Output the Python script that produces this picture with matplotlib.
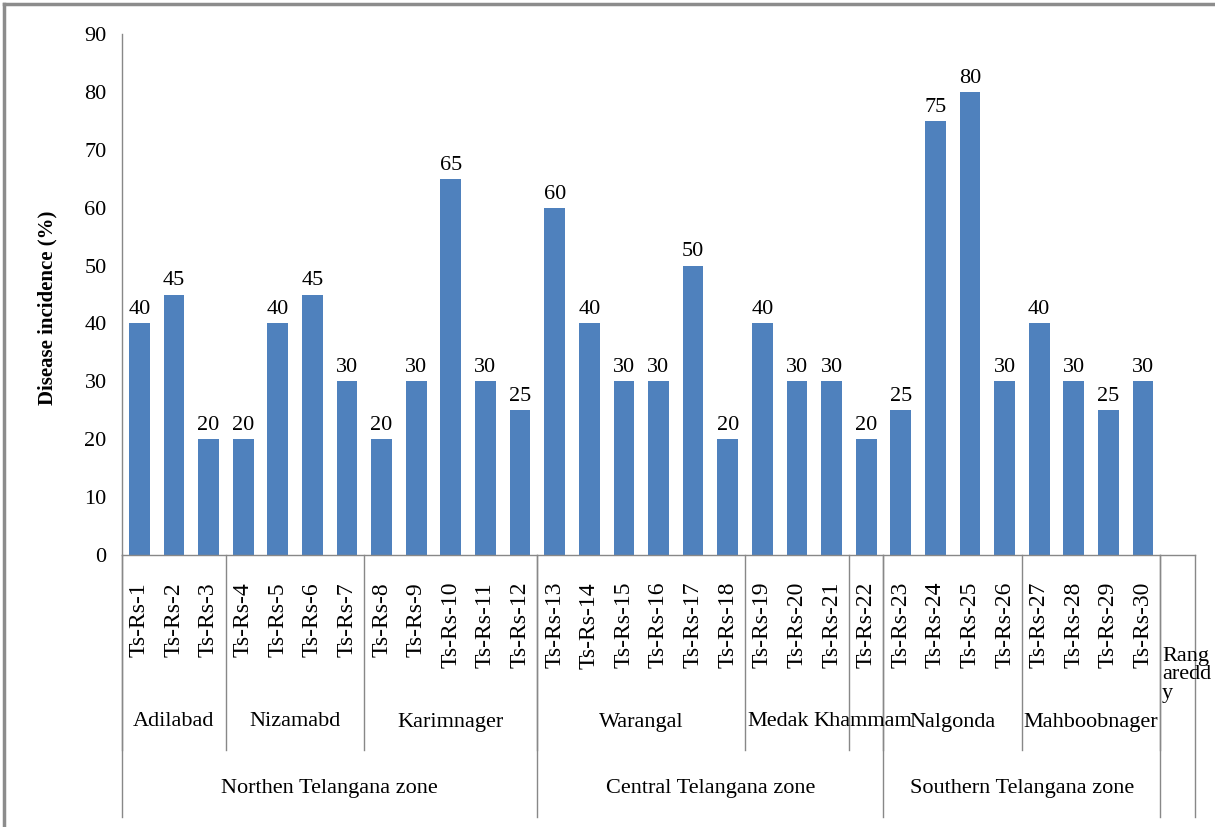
import numpy as np
import matplotlib.pyplot as plt
from matplotlib.lines import Line2D

plt.rcParams['font.family'] = ['Liberation Serif', 'DejaVu Serif']

# Disease incidence per isolate
samples = ["Ts-Rs-%d" % i for i in range(1, 31)] + [""]
incidence = [40, 45, 20, 20, 40, 45, 30, 20, 30, 65, 30, 25, 60, 40, 30,
             30, 50, 20, 40, 30, 30, 20, 25, 75, 80, 30, 40, 30, 25, 30]

districts = ["Adilabad", "Nizamabd", "Karimnager", "Warangal", "Medak",
             "Khammam", "Nalgonda", "Mahboobnager", "Rang\naredd\ny"]
district_sizes = [3, 4, 5, 6, 3, 1, 4, 4, 1]

zones = ["Northen Telangana zone", "Central Telangana zone",
         "Southern Telangana zone", ""]
zone_sizes = [12, 10, 8, 1]

W, H = 1215, 827
fig = plt.figure(figsize=(W / 100, H / 100), dpi=100)
ax = fig.add_axes([122 / W, 1 - 555 / H, (1195 - 122) / W, (555 - 34) / H])

x = np.arange(len(incidence))
bars = ax.bar(x, incidence, width=0.6, color="#4F81BD", zorder=2)
ax.bar_label(bars, padding=3, fontsize=16)

ax.set_xlim(-0.5, len(samples) - 0.5)
ax.set_ylim(0, 90)
ax.set_yticks(range(0, 91, 10))
ax.tick_params(axis="y", length=0, pad=11, labelsize=16)
ax.set_xticks([])
for s in ["top", "right"]:
    ax.spines[s].set_visible(False)
for s in ["left", "bottom"]:
    ax.spines[s].set_color("#888888")
    ax.spines[s].set_linewidth(1)

ax.set_ylabel("Disease incidence (%)", fontsize=15, fontweight="bold")
ax.yaxis.set_label_coords(-0.06, 0.475)

tr = ax.get_xaxis_transform()
ah = 555 - 34


def yf(py):
    return -(py - 555) / ah


grey = "#888888"
# sample labels
for i, s in enumerate(samples):
    ax.text(i, yf(582), s, rotation=90, ha="center", va="top",
            fontsize=17, transform=tr, clip_on=False)

# district labels and separators
start = 0
for name, n in zip(districts, district_sizes):
    end = start + n
    ax.add_line(Line2D([start - 0.5, start - 0.5], [0, yf(750)], transform=tr,
                       color=grey, lw=1, clip_on=False))
    if name.startswith("Rang"):
        ax.text(start - 0.45, yf(647), name, ha="left", va="top", fontsize=16,
                linespacing=0.95, transform=tr, clip_on=False)
    elif name == "Medak":
        # Medak and Khammam are crowded: push them apart
        ax.text(end - 1.65, yf(722), name, ha="right", va="center",
                fontsize=16, transform=tr, clip_on=False)
    elif name == "Khammam":
        ax.text(start - 0.1, yf(722), name, ha="center", va="center",
                fontsize=16, transform=tr, clip_on=False)
    else:
        ax.text((start + end - 1) / 2, yf(722), name, ha="center", va="center",
                fontsize=16, transform=tr, clip_on=False)
    start = end

# zone labels and separators
start = 0
for name, n in zip(zones, zone_sizes):
    end = start + n
    ax.add_line(Line2D([start - 0.5, start - 0.5], [0, yf(817)], transform=tr,
                       color=grey, lw=1, clip_on=False))
    ax.text((start + end - 1) / 2, yf(788), name, ha="center", va="center",
            fontsize=16, transform=tr, clip_on=False)
    start = end
ax.add_line(Line2D([start - 0.5, start - 0.5], [0, yf(817)], transform=tr,
                   color=grey, lw=1, clip_on=False))

# outer frame (top and left edges visible)
fig.add_artist(Line2D([4 / W, 1], [1 - 4 / H, 1 - 4 / H], color="#8c8c8c",
                      lw=2.5, transform=fig.transFigure))
fig.add_artist(Line2D([4 / W, 4 / W], [0, 1 - 4 / H], color="#8c8c8c",
                      lw=2.5, transform=fig.transFigure))

fig.savefig("out.png", dpi=100)
